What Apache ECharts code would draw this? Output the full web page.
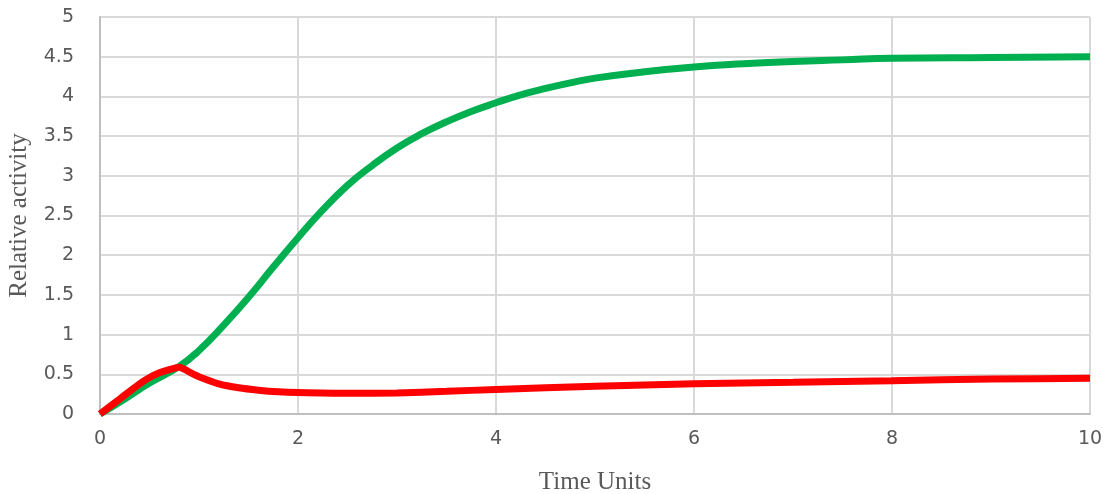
<!DOCTYPE html>
<html>
<head>
<meta charset="utf-8">
<script src="https://cdn.jsdelivr.net/npm/echarts@6/dist/echarts.min.js"></script>
<style>
html,body{margin:0;padding:0;background:#fff;}
#chart{width:1112px;height:494px;}
</style>
</head>
<body>
<div id="chart"></div>
<script>
var xAxisTitle = "Time Units";
var yAxisTitle = "Relative activity";
var greenTime = [0, 0.25, 0.5, 0.8, 1.0, 1.25, 1.5, 1.75, 2.0, 2.25, 2.5, 2.75, 3.0, 3.25, 3.5, 3.75, 4.0, 4.25, 4.5, 4.75, 5.0, 5.5, 6.0, 6.5, 7.0, 7.5, 8.0, 9.0, 10.0];
var greenValues = [0, 0.19, 0.39, 0.6, 0.8, 1.12, 1.47, 1.85, 2.22, 2.57, 2.88, 3.13, 3.35, 3.53, 3.68, 3.81, 3.92, 4.02, 4.1, 4.17, 4.23, 4.31, 4.37, 4.41, 4.44, 4.46, 4.48, 4.49, 4.5];
var redTime = [0, 0.2, 0.4, 0.5, 0.6, 0.7, 0.8, 0.9, 1.0, 1.2, 1.4, 1.6, 1.8, 2.0, 2.5, 3.0, 3.5, 4.0, 5.0, 6.0, 7.0, 8.0, 9.0, 10.0];
var redValues = [0, 0.19, 0.38, 0.46, 0.52, 0.56, 0.59, 0.53, 0.47, 0.38, 0.33, 0.3, 0.28, 0.27, 0.26, 0.265, 0.285, 0.31, 0.35, 0.38, 0.40, 0.42, 0.44, 0.45];

function pairs(xs, ys) { return xs.map(function (x, i) { return [x, ys[i]]; }); }

var chart = echarts.init(document.getElementById('chart'), null, {renderer: 'canvas'});
var labelStyle = {color: '#595959', fontFamily: 'DejaVu Sans', fontSize: 19};
chart.setOption({
  animation: false,
  backgroundColor: '#ffffff',
  grid: {left: 100, right: 22, top: 17, bottom: 80, containLabel: false, outerBoundsMode: 'none'},
  xAxis: {
    type: 'value', min: 0, max: 10, interval: 2,
    name: xAxisTitle, nameLocation: 'middle', nameGap: 56,
    nameTextStyle: {color: '#595959', fontFamily: 'Liberation Serif', fontSize: 25},
    axisLine: {show: true, lineStyle: {color: '#BFBFBF', width: 2}},
    axisTick: {show: false},
    axisLabel: Object.assign({margin: 16}, labelStyle),
    splitLine: {show: true, lineStyle: {color: '#D9D9D9', width: 2}}
  },
  yAxis: {
    type: 'value', min: 0, max: 5, interval: 0.5,
    name: yAxisTitle, nameLocation: 'middle', nameGap: 68,
    nameTextStyle: {color: '#595959', fontFamily: 'Liberation Serif', fontSize: 25},
    axisLine: {show: true, lineStyle: {color: '#BFBFBF', width: 2}},
    axisTick: {show: false},
    axisLabel: Object.assign({margin: 26}, labelStyle),
    splitLine: {show: true, lineStyle: {color: '#D9D9D9', width: 2}}
  },
  series: [
    {
      type: 'line', data: pairs(greenTime, greenValues),
      showSymbol: false, smooth: 0.5,
      lineStyle: {color: '#00B050', width: 7}, z: 2
    },
    {
      type: 'line', data: pairs(redTime, redValues),
      showSymbol: false, smooth: 0.25,
      lineStyle: {color: '#FF0000', width: 7}, z: 3
    }
  ]
});
</script>
</body>
</html>
